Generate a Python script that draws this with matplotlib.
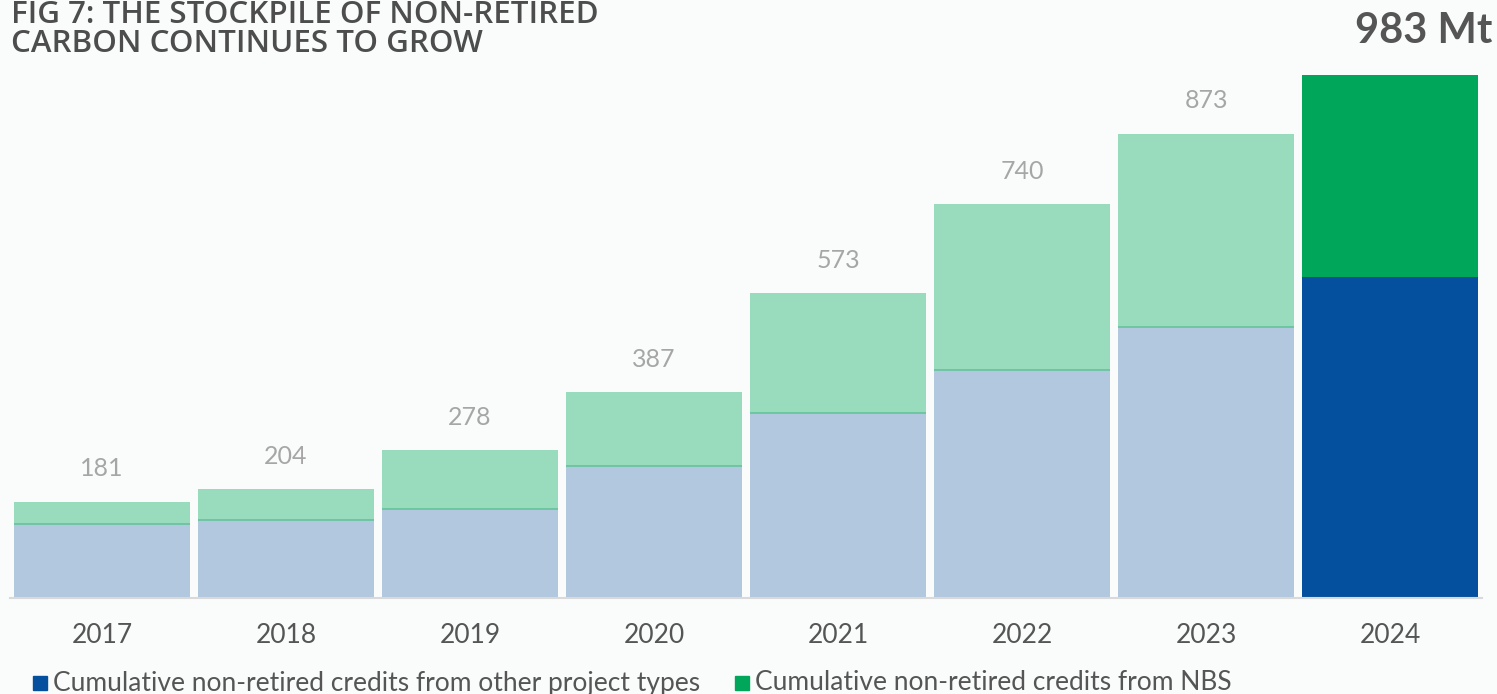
import matplotlib.pyplot as plt
from matplotlib.patches import Rectangle

# Stock of non-retired credits, Mt
years = ["2017", "2018", "2019", "2020", "2021", "2022", "2023", "2024"]
totals = [181, 204, 278, 387, 573, 740, 873, 983]
other_types = [139, 147, 167, 248, 348, 429, 509, 603]
nbs = [t - o for t, o in zip(totals, other_types)]

plt.rcParams['font.family'] = ['Lato', 'DejaVu Sans']

bg = '#fafcfc'
fig = plt.figure(figsize=(14.97, 6.94), dpi=100, facecolor=bg)
W, H = 1497, 694
ax = fig.add_axes([10 / W, 1 - 598 / H, 1472 / W, 523 / H])
ax.set_facecolor(bg)

x = list(range(len(years)))
width = 176 / 184

# past years muted, latest year in full colour
blue_cols = ['#b2c8df'] * 7 + ['#05509e']
green_cols = ['#99dbbd'] * 7 + ['#00a659']
ax.bar(x, other_types, width=width, color=blue_cols, linewidth=0)
ax.bar(x, nbs, bottom=other_types, width=width, color=green_cols, linewidth=0)
ax.hlines(other_types[:7], [i - width / 2 for i in x[:7]], [i + width / 2 for i in x[:7]],
          color='#66c29c', lw=1.2)

for i in range(7):
    ax.text(x[i], totals[i] + 62, str(totals[i]), ha='center', va='center',
            fontsize=18, color='#a6a6a6', clip_on=False)

ax.set_xlim(-0.5, 7.5)
ax.set_ylim(0, 983)
ax.set_yticks([])
ax.set_xticks(x)
ax.set_xticklabels(years, fontsize=19, color='#555555')
ax.tick_params(axis='x', length=0, pad=18)
for s in ['top', 'right', 'left']:
    ax.spines[s].set_visible(False)
ax.spines['bottom'].set_color('#d9d9d9')
ax.spines['bottom'].set_linewidth(1.5)

title_font = dict(fontsize=22.5, fontweight='semibold', color='#4d4d4d',
                  family=['Open Sans', 'DejaVu Sans'], va='center', ha='left')
fig.text(11 / W, 1 - 15 / H, "FIG 7: THE STOCKPILE OF NON-RETIRED", **title_font)
fig.text(11 / W, 1 - 44 / H, "CARBON CONTINUES TO GROW", **title_font)
fig.text(1492 / W, 1 - 31 / H, f"{totals[-1]} Mt", fontsize=30,
         fontweight='bold', color='#555555', va='center', ha='right')

# legend row
for sx, col, label in [(33, '#05509e', "Cumulative non-retired credits from other project types"),
                       (735, '#00a659', "Cumulative non-retired credits from NBS")]:
    fig.patches.append(Rectangle((sx / W, 1 - 690 / H), 14 / W, 14 / H,
                                 transform=fig.transFigure, color=col))
    fig.text((sx + 20) / W, 1 - 683 / H, label, fontsize=19, color='#555555',
             va='center', ha='left')

fig.savefig("out.png", dpi=100, facecolor=bg)
